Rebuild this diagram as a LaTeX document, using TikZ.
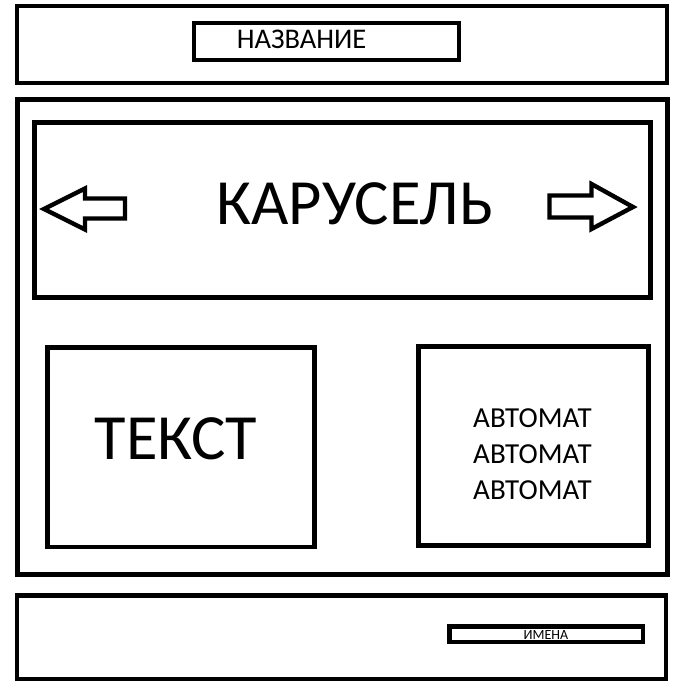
\documentclass[tikz,border=0pt]{standalone}
\usepackage{fontspec}
\setmainfont{Carlito}
\begin{document}
\begin{tikzpicture}[x=1pt,y=-1pt,
  frame/.style={draw=black, line width=4.6pt, line join=miter},
  arrowshape/.style={draw=black, line width=4.4pt, line join=miter, fill=white},
  lbl/.style={inner sep=0pt, outer sep=0pt, text=black}]
\useasboundingbox[fill=white] (0,0) rectangle (692,695);
% header
\draw[frame] (17,6) rectangle (667,83);
\draw[frame] (194,23) rectangle (459,60);
\node[lbl, font=\fontsize{28.5}{32}\selectfont] (title) at (301.5,39.5) {НАЗВАНИЕ};
% main
\draw[frame] (17.5,99.5) rectangle (667.5,574.5);
\draw[frame] (34.5,122.5) rectangle (650.5,297.5);
\node[lbl, font=\fontsize{64.5}{70}\selectfont] (car) at (355,203.5) {КАРУСЕЛЬ};
\draw[arrowshape] (44,209) -- (85,188.5) -- (85,198.5) -- (125,198.5) -- (125,218.5) -- (85,218.5) -- (85,229.5) -- cycle;
\draw[arrowshape] (633,207) -- (591.5,184) -- (591.5,195.5) -- (549.5,195.5) -- (549.5,217.5) -- (591.5,217.5) -- (591.5,229) -- cycle;
% text box
\draw[frame] (47.5,347.5) rectangle (314.5,547);
\node[lbl, font=\fontsize{64.5}{70}\selectfont] (txt) at (176,438.5) {ТЕКСТ};
% automat box
\draw[frame] (418.5,346.5) rectangle (648.5,545.5);
\node[lbl, font=\fontsize{29}{32}\selectfont] (a1) at (532.5,418.5) {АВТОМАТ};
\node[lbl, font=\fontsize{29}{32}\selectfont] (a2) at (532.5,454.5) {АВТОМАТ};
\node[lbl, font=\fontsize{29}{32}\selectfont] (a3) at (532.5,490.5) {АВТОМАТ};
% footer
\draw[frame] (17,595.5) rectangle (666,679);
\draw[frame] (449.5,626.5) rectangle (643,642);
\node[lbl, font=\fontsize{14}{16}\selectfont] (names) at (546,635) {ИМЕНА};
\end{tikzpicture}
\end{document}
